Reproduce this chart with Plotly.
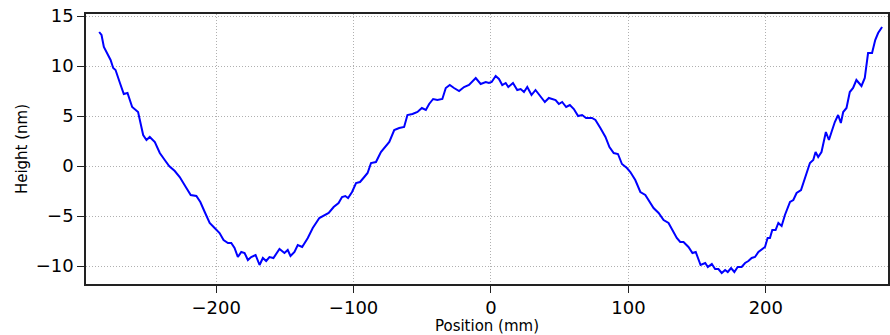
import plotly.graph_objects as go

position_mm = [
    -285.1, -283.4, -281.7, -279.7, -276.8, -274.9, -273.2, -270.0, -267.2, -264.5,
    -261.1, -256.8, -253.1, -250.7, -248.3, -244.6, -241.0, -237.4, -234.2, -230.1,
    -226.5, -222.1, -218.5, -214.4, -211.5, -208.3, -204.7, -201.1, -197.5, -194.6,
    -191.4, -189.0, -186.6, -184.2, -181.7, -179.3, -176.9, -174.5, -171.3, -168.4,
    -166.0, -163.6, -161.2, -158.3, -155.5, -153.9, -150.3, -147.9, -145.9, -143.0,
    -140.6, -137.4, -133.3, -129.7, -124.9, -121.2, -118.1, -114.5, -110.9, -108.4,
    -106.0, -104.0, -101.1, -98.2, -95.3, -92.2, -89.8, -87.3, -83.7, -80.1,
    -77.0, -74.0, -70.4, -66.8, -63.2, -60.8, -57.1, -53.5, -50.3, -47.4,
    -45.0, -42.1, -39.0, -35.4, -32.9, -30.0, -26.9, -23.2, -19.6, -16.0,
    -11.1, -7.5, -3.8, -1.5, 0.5, 3.4, 5.8, 8.2, 10.7, 12.6,
    16.0, 19.1, 21.6, 24.0, 26.4, 29.5, 32.4, 36.1, 39.2, 42.1,
    47.0, 49.4, 51.8, 54.7, 57.4, 60.3, 63.4, 66.3, 69.2, 73.5,
    76.0, 79.6, 83.3, 86.2, 89.3, 92.4, 95.3, 98.9, 101.4, 105.0,
    108.7, 112.3, 115.9, 118.3, 122.0, 125.6, 129.2, 132.8, 135.2, 137.7,
    140.1, 143.7, 146.6, 149.0, 152.5, 155.9, 157.8, 160.7, 163.1, 165.5,
    167.9, 170.4, 172.3, 174.7, 177.1, 179.5, 182.4, 184.9, 187.3, 189.7,
    192.1, 194.6, 197.0, 199.4, 201.3, 203.0, 204.7, 207.1, 209.1, 211.5,
    213.9, 217.6, 220.0, 222.4, 225.6, 227.2, 229.6, 232.1, 234.5, 236.2,
    238.1, 240.5, 243.7, 245.9, 247.8, 250.2, 252.6, 254.6, 256.3, 258.7,
    261.1, 263.5, 265.9, 269.6, 272.0, 274.4, 277.3, 279.6, 281.7, 284.6,
]

height_nm = [
    13.4, 13.1, 11.9, 11.3, 10.6, 9.8, 9.6, 8.3, 7.2, 7.3,
    5.9, 5.4, 3.1, 2.6, 2.9, 2.4, 1.3, 0.6, 0.0, -0.5,
    -1.1, -2.1, -2.9, -3.0, -3.6, -4.6, -5.7, -6.2, -6.7, -7.4,
    -7.7, -7.7, -8.2, -9.1, -8.6, -8.7, -9.4, -9.1, -8.9, -9.9,
    -9.2, -9.5, -9.1, -9.2, -8.6, -8.3, -8.7, -8.4, -9.0, -8.6,
    -7.9, -8.1, -7.2, -6.2, -5.2, -4.9, -4.7, -4.1, -3.7, -3.1,
    -3.0, -3.2, -2.6, -1.7, -1.6, -1.1, -0.7, 0.3, 0.4, 1.4,
    1.9, 2.4, 3.6, 3.8, 3.9, 5.1, 5.2, 5.4, 5.8, 5.6,
    6.2, 6.7, 6.6, 6.7, 7.8, 8.1, 7.8, 7.5, 7.9, 8.1,
    8.8, 8.2, 8.4, 8.3, 8.4, 9.0, 8.7, 8.1, 8.3, 7.9,
    8.3, 7.6, 7.7, 7.4, 7.9, 7.1, 7.6, 6.9, 6.4, 6.8,
    6.6, 6.2, 6.4, 5.9, 6.1, 5.7, 5.0, 5.1, 4.8, 4.8,
    4.6, 3.8, 2.9, 1.9, 1.3, 1.2, 0.2, -0.2, -0.6, -1.4,
    -2.6, -2.9, -3.7, -4.2, -4.7, -5.4, -5.7, -6.7, -7.2, -7.6,
    -7.6, -8.1, -8.7, -8.6, -9.9, -9.7, -10.1, -9.8, -10.3, -10.3,
    -10.7, -10.4, -10.6, -10.2, -10.6, -10.1, -10.1, -9.7, -9.5, -9.2,
    -9.1, -8.6, -8.3, -8.1, -7.2, -7.2, -6.4, -6.4, -5.7, -6.0,
    -4.9, -3.6, -3.4, -2.7, -2.4, -1.7, -0.6, 0.3, 0.6, 1.4,
    0.9, 1.4, 3.4, 2.6, 3.4, 4.4, 5.1, 4.3, 5.4, 5.8,
    7.4, 7.8, 8.6, 8.0, 8.8, 11.3, 11.3, 12.6, 13.3, 13.9,
]

x_tick_vals = [-200, -100, 0, 100, 200]
y_tick_vals = [-10, -5, 0, 5, 10, 15]

fig = go.Figure()
fig.add_trace(go.Scatter(
    x=position_mm, y=height_nm, mode="lines",
    line=dict(color="#0000ff", width=2),
    showlegend=False,
))

axis_common = dict(
    showline=True, linecolor="#222222", linewidth=1.5, mirror=True,
    showgrid=True, gridcolor="#b0b0b0", griddash="1px,2px", gridwidth=1,
    zeroline=False, ticks="outside", ticklen=7, tickcolor="#222222", tickwidth=1.2,
    tickfont=dict(family="DejaVu Sans", size=18, color="black"),
)

fig.update_layout(
    width=890, height=335,
    margin=dict(l=86, r=0, t=14, b=51),
    paper_bgcolor="white", plot_bgcolor="white",
    font=dict(family="DejaVu Sans", color="black"),
    xaxis=dict(range=[-294.7, 288.9], tickvals=x_tick_vals,
               title=dict(text="Position (mm)", font=dict(size=15), standoff=2),
               **axis_common),
    yaxis=dict(range=[-11.8, 15.2], tickvals=y_tick_vals,
               title=dict(text="Height (nm)", font=dict(size=15), standoff=4),
               **axis_common),
)

fig.write_html("out.html")
